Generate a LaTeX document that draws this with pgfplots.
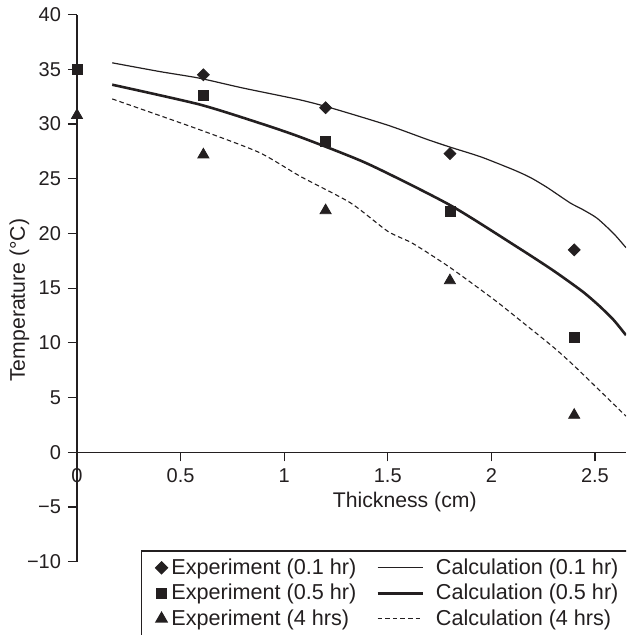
\documentclass[border=0pt]{standalone}
\usepackage{fontspec}
\setmainfont{Liberation Sans}
\usepackage{pgfplots}
\pgfplotsset{compat=1.18}
\definecolor{ink}{HTML}{231F20}
\pgfplotsset{
 markleg/.style={legend image code/.code={\draw[mark repeat=2,mark phase=2,##1] plot coordinates {(0cm,0cm)(0.21cm,0cm)(0.40cm,0cm)};}},
 lineleg/.style={legend image code/.code={\draw[##1] (0pt,0pt) -- (22.5pt,0pt); \path (26.5pt,0pt);}},
}
\begin{document}
\begin{tikzpicture}
\clip (-38.5pt,-36.65pt) rectangle (274.5pt,280.85pt);
\begin{axis}[
 at={(0,0)}, anchor=south west,
 scale only axis, width=274.5pt, height=273.5pt,
 xmin=0, xmax=2.65, ymin=-10, ymax=40,
 axis x line=middle, axis y line=left,
 axis line style={-, ink, line width=0.6pt},
 hide obscured x ticks=false, hide obscured y ticks=false,
 xtick={0,0.5,1,1.5,2,2.5}, xticklabels={0,0.5,1,1.5,2,2.5},
 ytick={-10,-5,...,40}, yticklabels={−10,−5,0,5,10,15,20,25,30,35,40},
 tick align=outside, major tick length=4.5pt,
 tick style={ink, line width=0.6pt},
 tick label style={font=\fontsize{10}{12}\selectfont, text=ink},
 label style={font=\fontsize{10.6}{12}\selectfont, text=ink},
 xlabel={Thickness (cm)},
 xlabel style={at={(axis description cs:0.597,0.109)}, anchor=center},
 ylabel={Temperature (°C)},
 ylabel style={at={(axis description cs:-0.105,0.478)}, anchor=center},
 legend columns=2,
 legend cell align=left,
 legend style={at={(0.1166,0.0205)}, anchor=north west, draw=ink, line width=0.6pt,
   font=\fontsize{10.8}{12}\selectfont, text=ink, inner xsep=7pt,
   nodes={inner ysep=1.7pt, inner xsep=2pt},
   /tikz/every odd column/.style={column sep=0pt},
   /tikz/every even column/.style={column sep=8pt}},
]
% Experiment 0.1 hr
\addplot[only marks, mark=square*, mark size=2.1pt, mark options={rotate=45, fill=ink, draw=ink}, markleg]
  coordinates {(0.61,34.5) (1.2,31.5) (1.8,27.3) (2.4,18.5)};
\addlegendentry{Experiment (0.1 hr)}
% Calculation 0.1 hr
\addplot[ink, line width=0.6pt, smooth, tension=0.4, no marks, lineleg]
  coordinates {(0.17,35.6) (0.4,34.8) (0.59,34.2) (0.8,33.3) (1.08,32.2) (1.24,31.4) (1.5,29.9) (1.69,28.6) (1.8,27.9) (1.95,27.0) (2.11,25.8) (2.19,25.1) (2.27,24.2) (2.38,22.8) (2.44,22.2) (2.51,21.4) (2.59,20.0) (2.65,18.7)};
\addlegendentry{Calculation (0.1 hr)}
% Experiment 0.5 hr
\addplot[only marks, mark=square*, mark size=2.5pt, mark options={fill=ink, draw=ink}, markleg]
  coordinates {(0,35) (0.61,32.6) (1.2,28.4) (1.8,22.0) (2.4,10.5)};
\addlegendentry{Experiment (0.5 hr)}
% Calculation 0.5 hr
\addplot[ink, line width=1.3pt, smooth, tension=0.4, no marks, lineleg]
  coordinates {(0.17,33.6) (0.59,31.8) (0.88,30.1) (1.08,28.8) (1.4,26.4) (1.8,22.6) (2.13,18.7) (2.3,16.6) (2.44,14.7) (2.52,13.4) (2.59,12.1) (2.65,10.7)};
\addlegendentry{Calculation (0.5 hr)}
% Experiment 4 hrs
\addplot[only marks, mark=triangle*, mark size=3.2pt, mark options={fill=ink, draw=ink}, markleg]
  coordinates {(0,30.8) (0.61,27.2) (1.2,22.1) (1.8,15.7) (2.4,3.4)};
\addlegendentry{Experiment (4 hrs)}
% Calculation 4 hrs
\addplot[ink, line width=0.55pt, dash pattern=on 2.3pt off 1.5pt, smooth, tension=0.4, no marks, lineleg]
  coordinates {(0.17,32.3) (0.59,29.5) (0.88,27.4) (1.08,25.2) (1.32,22.8) (1.5,20.2) (1.62,19.1) (1.8,16.9) (2.01,14.0) (2.13,12.2) (2.3,9.6) (2.40,7.9) (2.52,5.7) (2.65,3.3)};
\addlegendentry{Calculation (4 hrs)}
\end{axis}
\end{tikzpicture}
\end{document}
